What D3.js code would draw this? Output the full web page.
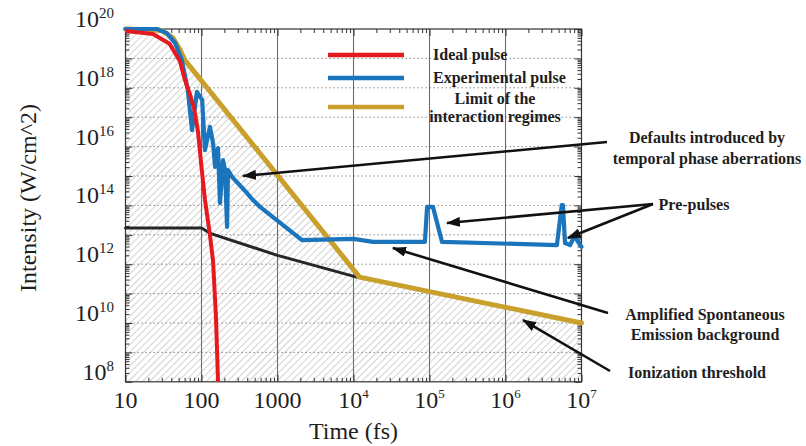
<!DOCTYPE html>
<html><head><meta charset="utf-8">
<script src="https://cdn.jsdelivr.net/npm/d3@7"></script>
<style>
body{margin:0;background:#fff;}
svg text{font-family:"Liberation Serif","Times New Roman",serif;fill:#1e1e1e;}
</style></head>
<body><svg id="chart" width="806" height="446"></svg>
<script>
// Time in fs, intensity as log10(W/cm^2)
const idealT    = [10, 23, 38, 52, 60, 70, 80, 90, 100, 111, 129, 142, 155, 165];
const idealLogI = [19.93, 19.83, 19.5, 18.9, 18.3, 17.8, 17.3, 16.5, 15.3, 14.2, 13.0, 12.1, 10.2, 8.0];

const expT    = [10, 26, 35, 45, 55, 66, 75, 87, 102, 111, 129, 142, 151, 165, 175, 192, 204, 217, 223, 252,
                 397, 476, 589, 2100, 1e4, 1.8e4, 8.7e4, 9.3e4, 1.11e5, 1.46e5, 4.75e6, 5.5e6, 5.7e6, 6.07e6, 7.1e6, 8.0e6, 1e7];
const expLogI = [20, 20, 19.86, 19.52, 18.95, 17.93, 16.56, 17.86, 17.59, 15.88, 16.67, 16.12, 15.31, 15.95, 14.08, 15.54, 15.2, 13.27, 15.2, 14.97,
                 14.42, 14.18, 13.95, 12.82, 12.86, 12.76, 12.76, 13.95, 13.95, 12.76, 12.65, 14.01, 14.01, 12.72, 12.65, 12.96, 12.59];

const limitT    = [10, 30, 42, 52, 60, 1.2e4, 1e7];
const limitLogI = [20, 19.95, 19.7, 19.3, 18.95, 11.56, 10.0];

const aseT    = [10, 100, 130, 1000, 1.1e4];
const aseLogI = [13.23, 13.23, 13.05, 12.3, 11.56];

const xTickExp = [1, 2, 3, 4, 5, 6, 7];
const xTickText = ["10", "100", "1000", "10^4", "10^5", "10^6", "10^7"];
const yTickExp = [8, 10, 12, 14, 16, 18, 20];

const legendNames = ["Ideal pulse", "Experimental pulse", "Limit of the|interaction regimes"];
const colors = {ideal: "#e51a1f", exp: "#1b75bc", limit: "#c9a02c", ase: "#262626"};

const svg = d3.select("#chart");
const pL = 125.5, pR = 581.5, pT = 29, pB = 381.8;
const x = d3.scaleLog().domain([10, 1e7]).range([pL, pR]);
const y = d3.scaleLog().domain([1e8, 1e20]).range([pB, pT]);

const toPts = (ts, ls) => ts.map((t, i) => [t, Math.pow(10, ls[i])]);
const ideal = toPts(idealT, idealLogI);
const exper = toPts(expT, expLogI);
const limit = toPts(limitT, limitLogI);
const ase = toPts(aseT, aseLogI);

const defs = svg.append("defs");
const pat = defs.append("pattern").attr("id", "hatch").attr("patternUnits", "userSpaceOnUse")
  .attr("width", 5).attr("height", 5).attr("patternTransform", "rotate(45)");
pat.append("line").attr("x1", 0).attr("y1", 0).attr("x2", 0).attr("y2", 5)
  .attr("stroke", "#ababab").attr("stroke-width", 1.1);
defs.append("clipPath").attr("id", "plotClip").append("rect")
  .attr("x", pL).attr("y", pT).attr("width", pR - pL).attr("height", pB - pT);
defs.append("marker").attr("id", "arrow").attr("markerUnits", "userSpaceOnUse")
  .attr("markerWidth", 14).attr("markerHeight", 10).attr("refX", 13).attr("refY", 5)
  .attr("orient", "auto")
  .append("path").attr("d", "M0,0 L14,5 L0,10 Z").attr("fill", "#111");

// hatched region below the limit of the interaction regimes
const area = d3.area().x(d => x(d[0])).y0(pB).y1(d => y(d[1]));
svg.append("path").datum(limit).attr("d", area).attr("fill", "url(#hatch)")
  .attr("clip-path", "url(#plotClip)");

// grid
const g = svg.append("g");
d3.range(9, 20).forEach(e => {
  g.append("line").attr("x1", pL).attr("x2", pR).attr("y1", y(Math.pow(10, e))).attr("y2", y(Math.pow(10, e)))
    .attr("stroke", "#8a8a8a").attr("stroke-width", 1).attr("stroke-dasharray", "1.5,2.5");
});
d3.range(2, 7).forEach(e => {
  g.append("line").attr("y1", pT).attr("y2", pB).attr("x1", x(Math.pow(10, e))).attr("x2", x(Math.pow(10, e)))
    .attr("stroke", "#6e6e6e").attr("stroke-width", 1.1);
});

// axes with inward ticks (major per decade, minor 2..9)
const minorVals = (lo, hi) => { const v = []; for (let e = lo; e < hi; e++) for (let k = 2; k < 10; k++) v.push(k * Math.pow(10, e)); return v; };
const xMajor = d3.range(1, 8).map(e => Math.pow(10, e));
const yMajor = d3.range(8, 21).map(e => Math.pow(10, e));
const xMinor = minorVals(1, 7), yMinor = minorVals(8, 20);
function addAxis(gen, scale, vals, size, tr) {
  const a = svg.append("g").attr("transform", tr)
    .call(gen(scale).tickValues(vals).tickSize(size).tickFormat(""));
  a.select(".domain").remove();
  a.selectAll("line").attr("stroke", "#333").attr("stroke-width", 1);
}
addAxis(d3.axisBottom, x, xMajor, -7, `translate(0,${pB})`);
addAxis(d3.axisBottom, x, xMinor, -4, `translate(0,${pB})`);
addAxis(d3.axisTop, x, xMajor, -7, `translate(0,${pT})`);
addAxis(d3.axisTop, x, xMinor, -4, `translate(0,${pT})`);
addAxis(d3.axisLeft, y, yMajor, -7, `translate(${pL},0)`);
addAxis(d3.axisLeft, y, yMinor, -4, `translate(${pL},0)`);
addAxis(d3.axisRight, y, yMajor, -7, `translate(${pR},0)`);
addAxis(d3.axisRight, y, yMinor, -4, `translate(${pR},0)`);
svg.append("rect").attr("x", pL).attr("y", pT).attr("width", pR - pL).attr("height", pB - pT)
  .attr("fill", "none").attr("stroke", "#333").attr("stroke-width", 1.2);

// curves
const line = d3.line().x(d => x(d[0])).y(d => y(d[1]));
const curves = svg.append("g").attr("fill", "none").attr("stroke-linejoin", "round").attr("stroke-linecap", "round");
curves.append("path").datum(ase).attr("d", line).attr("stroke", colors.ase).attr("stroke-width", 3);
curves.append("path").datum(limit).attr("d", line).attr("stroke", colors.limit).attr("stroke-width", 5);
curves.append("path").datum(exper).attr("d", line).attr("stroke", colors.exp).attr("stroke-width", 4.2);
curves.append("path").datum(ideal).attr("d", line).attr("stroke", colors.ideal).attr("stroke-width", 4)
  .attr("clip-path", "url(#plotClip)");

// tick labels
function powLabel(sel, txt, supSize, supDy) {
  const parts = txt.split("^");
  sel.append("tspan").text(parts[0]);
  if (parts[1]) sel.append("tspan").attr("font-size", supSize).attr("dy", supDy).text(parts[1]);
}
xTickExp.forEach((e, i) => {
  const t = svg.append("text").attr("x", x(Math.pow(10, e))).attr("y", 408)
    .attr("text-anchor", "middle").attr("font-size", 24);
  powLabel(t, xTickText[i], 13, -10);
});
yTickExp.forEach(e => {
  const t = svg.append("text").attr("x", 114).attr("y", y(Math.pow(10, e)) - 2)
    .attr("text-anchor", "end").attr("font-size", 24);
  powLabel(t, "10^" + e, 15, -9);
});

// axis titles
svg.append("text").attr("x", (pL + pR) / 2).attr("y", 439).attr("text-anchor", "middle")
  .attr("font-size", 24).text("Time (fs)");
svg.append("text").attr("transform", "translate(36,198) rotate(-90)").attr("text-anchor", "middle")
  .attr("font-size", 24).text("Intensity (W/cm^2)");

// legend
const legY = [55, 78, 107];
const legC = [colors.ideal, colors.exp, colors.limit];
legY.forEach((ly, i) => {
  svg.append("line").attr("x1", 328).attr("x2", 404).attr("y1", ly).attr("y2", ly)
    .attr("stroke", legC[i]).attr("stroke-width", 4.5);
});
const legText = svg.append("g").attr("font-size", 16).attr("font-weight", "bold");
legText.append("text").attr("x", 433).attr("y", 60).text(legendNames[0]);
legText.append("text").attr("x", 433).attr("y", 83).text(legendNames[1]);
const lim = legendNames[2].split("|");
legText.append("text").attr("x", 495).attr("y", 104).attr("text-anchor", "middle").text(lim[0]);
legText.append("text").attr("x", 495).attr("y", 122).attr("text-anchor", "middle").text(lim[1]);

// annotations: label lines, arrow start in px, arrow tips in (time, log10 I)
const notes = [
  {lines: ["Defaults introduced by", "temporal phase aberrations"], cx: 707, by: [143, 164],
   arrows: [{from: [607, 142], to: [352, 15.0]}]},
  {lines: ["Pre-pulses"], cx: 694, by: [210],
   arrows: [{from: [653, 204], to: [1.7e5, 13.4]}, {from: [653, 204], to: [6.6e6, 12.89]}]},
  {lines: ["Amplified Spontaneous", "Emission background"], cx: 705, by: [320, 340],
   arrows: [{from: [608, 313], to: [3.3e4, 12.55]}]},
  {lines: ["Ionization threshold"], cx: 697, by: [378],
   arrows: [{from: [610, 371], to: [1.7e6, 10.1]}]}
];
const ann = svg.append("g");
notes.forEach(n => {
  n.arrows.forEach(a => {
    ann.append("line").attr("x1", a.from[0]).attr("y1", a.from[1])
      .attr("x2", x(a.to[0])).attr("y2", y(Math.pow(10, a.to[1])))
      .attr("stroke", "#111").attr("stroke-width", 2.6).attr("marker-end", "url(#arrow)");
  });
  n.lines.forEach((s, i) => {
    ann.append("text").attr("x", n.cx).attr("y", n.by[i]).attr("text-anchor", "middle")
      .attr("font-size", 16).attr("font-weight", "bold").text(s);
  });
});
</script></body></html>
